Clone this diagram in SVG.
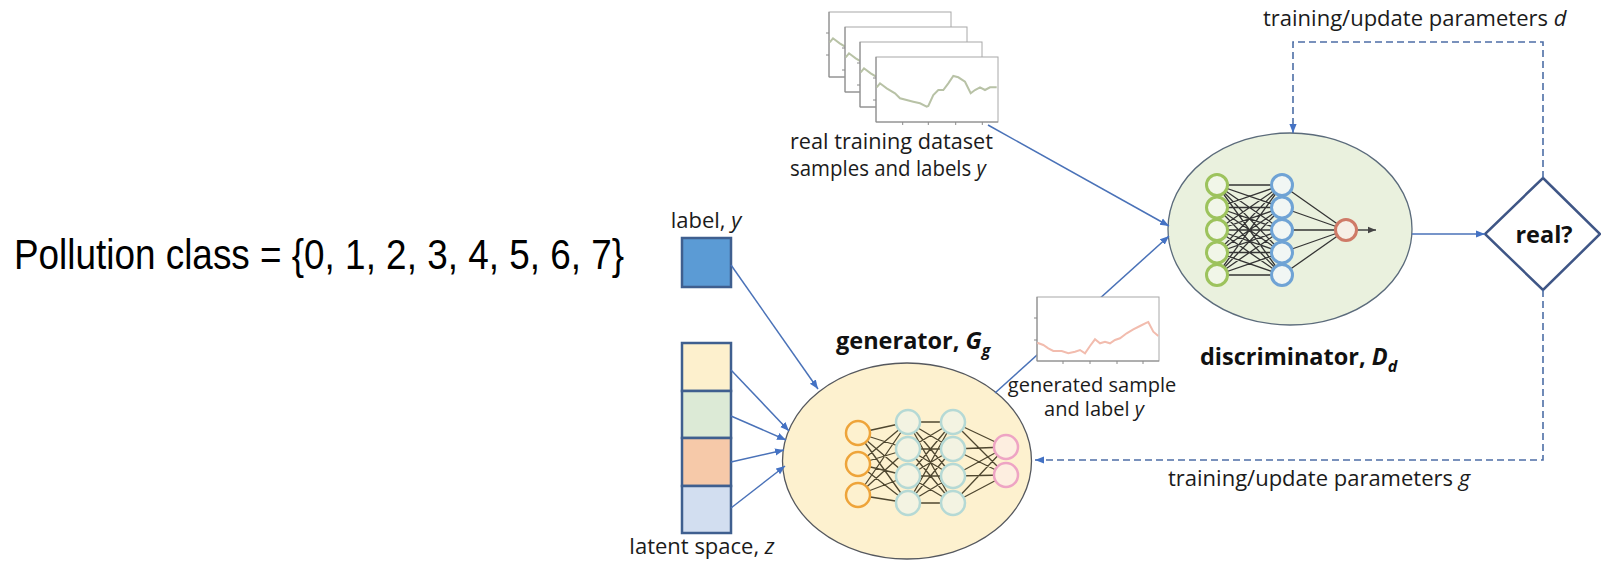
<svg xmlns="http://www.w3.org/2000/svg" xmlns:xlink="http://www.w3.org/1999/xlink" width="1601" height="563" viewBox="0 0 1601 563">
<style>
.lbl{font-family:"Open Sans","Liberation Sans",sans-serif;font-size:22px;fill:#1b1b1b}
.sm{font-size:20px}
.bold{font-family:"Open Sans","Liberation Sans",sans-serif;font-weight:bold;font-size:23.5px;fill:#111}
.it{font-style:italic}
.conn{fill:none;stroke:#4a72b8;stroke-width:1.5}
.dash{fill:none;stroke:#4d6ea6;stroke-width:1.6;stroke-dasharray:7 4}
.frame{fill:#fff;stroke:#a8a8a8;stroke-width:1}
.axis{fill:none;stroke:#8a8a8a;stroke-width:1}
.gedge{fill:none;stroke:#4f4730;stroke-width:1.3}
.dedge{fill:none;stroke:#353535;stroke-width:1.3}
</style>
<defs>
<marker id="ah" viewBox="0 0 10 10" refX="10" refY="5" markerWidth="9" markerHeight="9" markerUnits="userSpaceOnUse" orient="auto"><path d="M0,1 L10,5 L0,9 z" fill="#4472c4"/></marker>
<marker id="ahd" viewBox="0 0 10 10" refX="10" refY="5" markerWidth="8" markerHeight="8" markerUnits="userSpaceOnUse" orient="auto"><path d="M0,1 L10,5 L0,9 z" fill="#444"/></marker>
<g id="realchart">
<rect class="frame" x="0" y="0" width="122" height="65"/>
<path class="axis" d="M0 0V65H122M0 21h-3M0 43h-3M26.7 65v3M52.3 65v3M79.7 65v3M106.3 65v3"/>
<polyline fill="none" stroke="#b8c2a6" stroke-width="2" points="0.7,30.3 4,26.3 10.7,31.3 19,36.3 24,41.3 37.3,44.7 44,46.3 50.7,49.7 52.3,49 57.3,38 62.3,33 67.3,33 72.3,26.3 77.3,19 82.3,20.3 89,24.7 94.7,36.3 99,33 104,30.3 109,33 114,30.3 120.7,30.3"/>
</g>
</defs>
<rect width="1601" height="563" fill="#fff"/>

<g id="pollution-class">
<text x="14" y="269" font-family="'Liberation Sans',Arial,sans-serif" font-size="43" fill="#000" textLength="610" lengthAdjust="spacingAndGlyphs">Pollution class = {0, 1, 2, 3, 4, 5, 6, 7}</text>
</g>

<g id="label-y">
<text class="lbl" x="706" y="228" text-anchor="middle">label, <tspan class="it">y</tspan></text>
<rect x="682" y="238" width="49" height="49" fill="#5b9bd5" stroke="#3f5f8f" stroke-width="2.5"/>
</g>

<g id="latent-space">
<rect x="682" y="343" width="49" height="48" fill="#fdf0cd" stroke="#3f5f8f" stroke-width="2.5"/>
<rect x="682" y="391" width="49" height="47" fill="#dcead6" stroke="#3f5f8f" stroke-width="2.5"/>
<rect x="682" y="438" width="49" height="48" fill="#f6c9a9" stroke="#3f5f8f" stroke-width="2.5"/>
<rect x="682" y="486" width="49" height="47" fill="#d2def0" stroke="#3f5f8f" stroke-width="2.5"/>
<text class="lbl" x="702" y="554" text-anchor="middle">latent space, <tspan class="it">z</tspan></text>
</g>

<g id="generator">
<ellipse cx="907" cy="461" rx="124.5" ry="98" fill="#fdf1cf" stroke="#55585e" stroke-width="1.3"/>
<path class="gedge" d="M858 433L908 422M858 433L908 449M858 433L908 476M858 433L908 503M858 464L908 422M858 464L908 449M858 464L908 476M858 464L908 503M858 495L908 422M858 495L908 449M858 495L908 476M858 495L908 503M908 422L953 422M908 422L953 449M908 422L953 476M908 422L953 503M908 449L953 422M908 449L953 449M908 449L953 476M908 449L953 503M908 476L953 422M908 476L953 449M908 476L953 476M908 476L953 503M908 503L953 422M908 503L953 449M908 503L953 476M908 503L953 503M953 422L1006 447M953 422L1006 475M953 449L1006 447M953 449L1006 475M953 476L1006 447M953 476L1006 475M953 503L1006 447M953 503L1006 475"/>
<g fill="#fdf1cf" stroke="#eea43a" stroke-width="2.5">
<circle cx="858" cy="433" r="12"/><circle cx="858" cy="464" r="12"/><circle cx="858" cy="495" r="12"/>
</g>
<g fill="#f3f3e2" stroke="#b5d9d5" stroke-width="2.5">
<circle cx="908" cy="422" r="12"/><circle cx="908" cy="449" r="12"/><circle cx="908" cy="476" r="12"/><circle cx="908" cy="503" r="12"/>
<circle cx="953" cy="422" r="12"/><circle cx="953" cy="449" r="12"/><circle cx="953" cy="476" r="12"/><circle cx="953" cy="503" r="12"/>
</g>
<g fill="#fdeee0" stroke="#eea4c4" stroke-width="2.5">
<circle cx="1006" cy="447" r="12"/><circle cx="1006" cy="475" r="12"/>
</g>
<text class="bold" x="836" y="349">generator, <tspan class="it">G</tspan><tspan class="it" font-size="16" dy="7">g</tspan></text>
</g>

<g id="discriminator">
<ellipse cx="1290" cy="229" rx="122" ry="96" fill="#eaf1de" stroke="#5b6b7b" stroke-width="1.3"/>
<path class="dedge" d="M1217 185L1282 185M1217 185L1282 207.5M1217 185L1282 230M1217 185L1282 252.5M1217 185L1282 275M1217 207.5L1282 185M1217 207.5L1282 207.5M1217 207.5L1282 230M1217 207.5L1282 252.5M1217 207.5L1282 275M1217 230L1282 185M1217 230L1282 207.5M1217 230L1282 230M1217 230L1282 252.5M1217 230L1282 275M1217 252.5L1282 185M1217 252.5L1282 207.5M1217 252.5L1282 230M1217 252.5L1282 252.5M1217 252.5L1282 275M1217 275L1282 185M1217 275L1282 207.5M1217 275L1282 230M1217 275L1282 252.5M1217 275L1282 275M1282 185L1346 230M1282 207.5L1346 230M1282 230L1346 230M1282 252.5L1346 230M1282 275L1346 230"/>
<path d="M1356.5 230L1376 230" stroke="#444" stroke-width="1.5" marker-end="url(#ahd)"/>
<g fill="#f1f6e8" stroke="#9dc35d" stroke-width="3">
<circle cx="1217" cy="185" r="10.5"/><circle cx="1217" cy="207.5" r="10.5"/><circle cx="1217" cy="230" r="10.5"/><circle cx="1217" cy="252.5" r="10.5"/><circle cx="1217" cy="275" r="10.5"/>
</g>
<g fill="#f1f6f4" stroke="#6fa3d5" stroke-width="3">
<circle cx="1282" cy="185" r="10.5"/><circle cx="1282" cy="207.5" r="10.5"/><circle cx="1282" cy="230" r="10.5"/><circle cx="1282" cy="252.5" r="10.5"/><circle cx="1282" cy="275" r="10.5"/>
</g>
<circle cx="1346" cy="230" r="10.5" fill="#f6efe6" stroke="#cf7a67" stroke-width="3"/>
<text class="bold" x="1200" y="365">discriminator, <tspan class="it">D</tspan><tspan class="it" font-size="16" dy="7">d</tspan></text>
</g>

<g id="real-decision">
<polygon points="1543,178 1600,234 1543,290 1485,234" fill="#fff" stroke="#3f5686" stroke-width="2.5"/>
<text class="bold" x="1544" y="243" font-size="24" text-anchor="middle">real?</text>
</g>

<g id="connectors">
<path class="conn" d="M988 125L1169 226" marker-end="url(#ah)"/>
<path class="conn" d="M995 393L1169 236" marker-end="url(#ah)"/>
<path class="conn" d="M731 265L818 389" marker-end="url(#ah)"/>
<path class="conn" d="M731 370L789 431" marker-end="url(#ah)"/>
<path class="conn" d="M731 416L786 440" marker-end="url(#ah)"/>
<path class="conn" d="M731 462L784 450" marker-end="url(#ah)"/>
<path class="conn" d="M731 508L785 466" marker-end="url(#ah)"/>
<path class="conn" d="M1412 234L1485 234" marker-end="url(#ah)"/>
<path class="dash" d="M1543 178V42H1293V133" marker-end="url(#ah)"/>
<path class="dash" d="M1543 290V460H1035" marker-end="url(#ah)"/>
<text class="lbl" x="1263" y="26" font-size="22.5">training/update parameters <tspan class="it">d</tspan></text>
<text class="lbl" x="1168" y="486" font-size="22.5">training/update parameters <tspan class="it">g</tspan></text>
</g>

<g id="real-samples">
<use xlink:href="#realchart" href="#realchart" x="829" y="12"/>
<use xlink:href="#realchart" href="#realchart" x="845" y="27"/>
<use xlink:href="#realchart" href="#realchart" x="860" y="42"/>
<use xlink:href="#realchart" href="#realchart" x="876" y="57"/>
<text class="lbl" x="790" y="149" font-size="21.5" textLength="203" lengthAdjust="spacingAndGlyphs">real training dataset</text>
<text class="lbl" x="790" y="176" font-size="21.5" textLength="196" lengthAdjust="spacingAndGlyphs">samples and labels <tspan class="it">y</tspan></text>
</g>

<g id="generated-sample">
<rect class="frame" x="1037" y="297" width="122" height="64"/>
<path class="axis" d="M1037 297V361H1159M1037 318h-3M1037 340h-3M1063 361v3M1090 361v3M1117 361v3M1143 361v3"/>
<polyline fill="none" stroke="#f2bcae" stroke-width="2" points="1037.3,342.7 1043.3,345 1048.3,348.3 1053.3,351 1061.7,351 1068.3,353.3 1075,351.7 1080,350 1085,353.3 1090,346 1095,339.3 1100,343.3 1105,341.7 1110,343.3 1115,340 1120,338.3 1126.7,333.3 1133.3,329.3 1140,326 1146.7,322.7 1148.3,322 1153.3,331.7 1158.3,336"/>
<text class="lbl sm" x="1092" y="392" text-anchor="middle">generated sample</text>
<text class="lbl sm" x="1094" y="416" text-anchor="middle">and label <tspan class="it">y</tspan></text>
</g>
</svg>
